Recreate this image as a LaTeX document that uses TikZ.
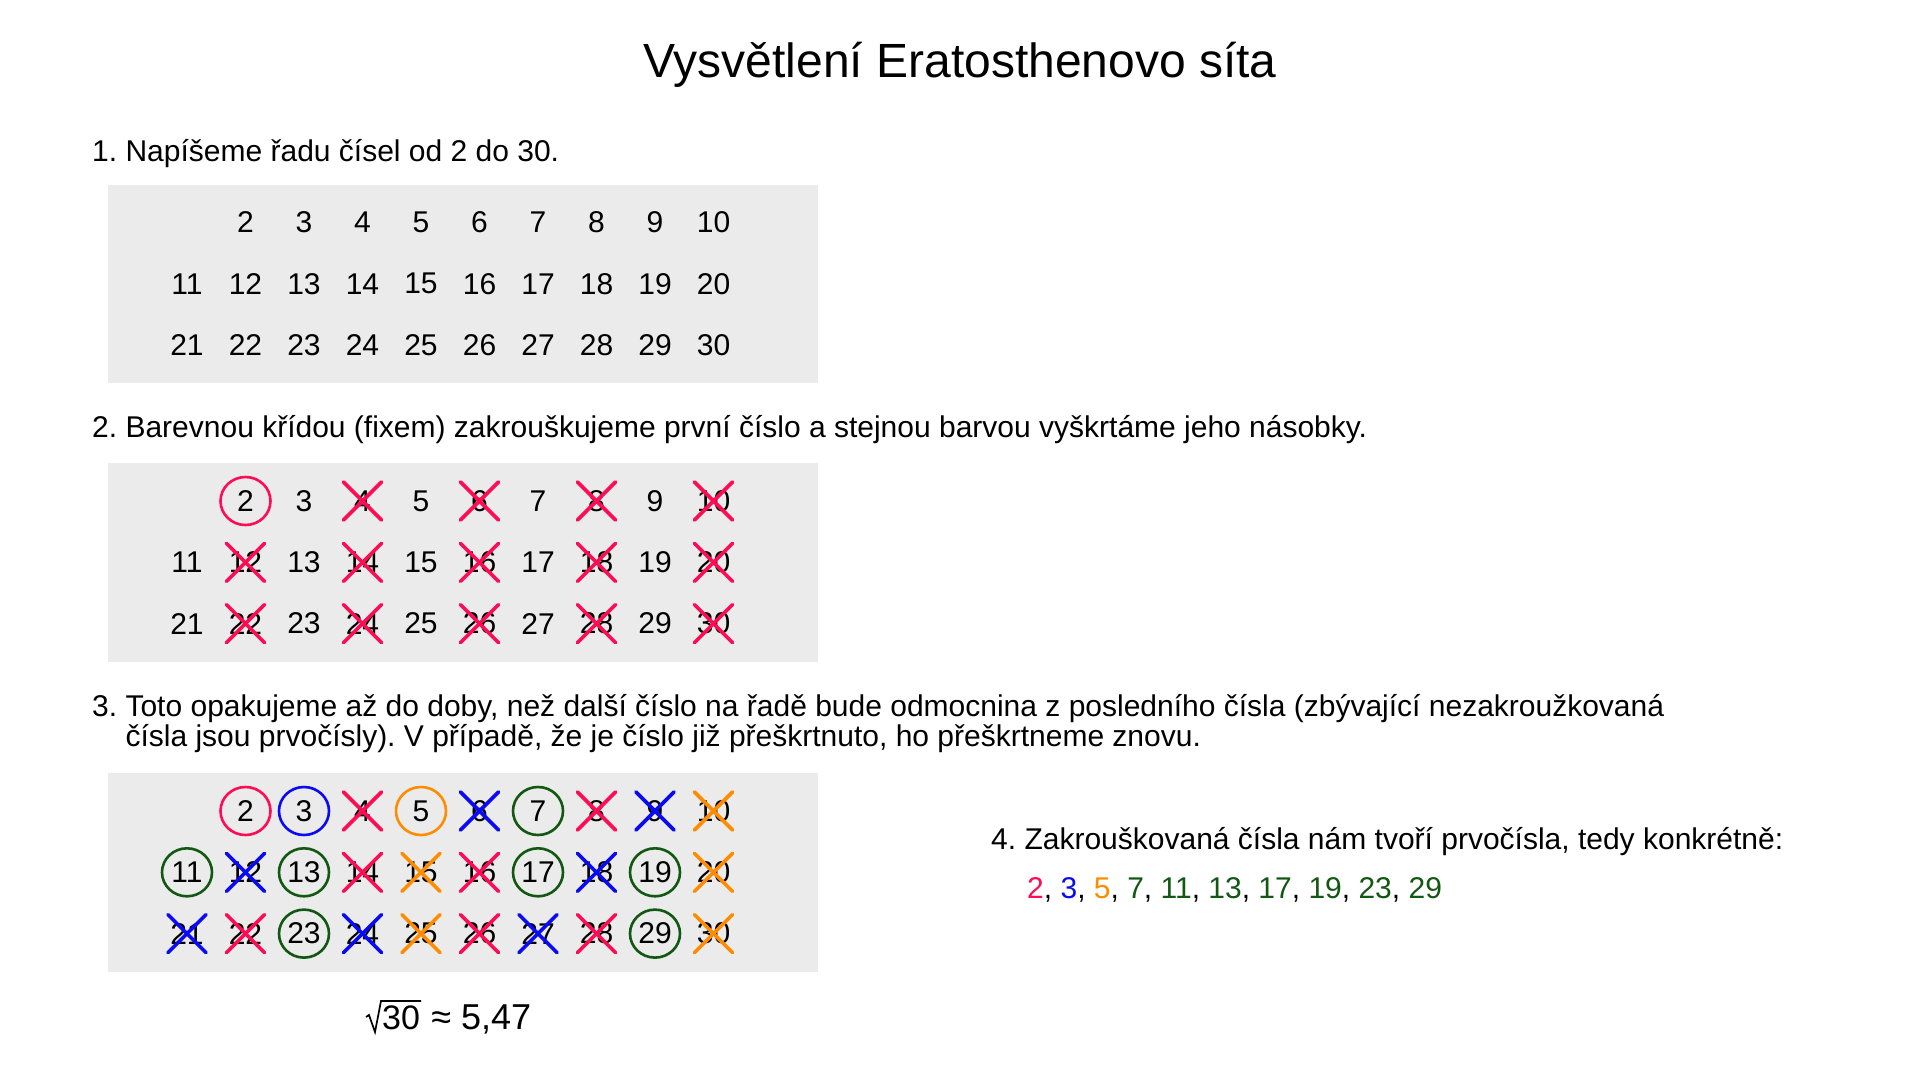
\documentclass[tikz,border=0pt]{standalone}
\usepackage{fontspec}
\setmainfont{Liberation Sans}
\definecolor{cred}{RGB}{255,12,84}
\definecolor{cblue}{RGB}{10,10,245}
\definecolor{corange}{RGB}{255,140,0}
\definecolor{cgreen}{RGB}{18,88,18}
\definecolor{boxgray}{RGB}{235,235,235}
\frenchspacing
\begin{document}
\begin{tikzpicture}[x=1pt,y=-1pt,
  txt/.style={inner sep=0pt, anchor=base west, font=\fontsize{30}{29.5}\selectfont},
  num/.style={inner sep=0pt, anchor=center, font=\fontsize{30}{30}\selectfont},
  panel/.style={fill=boxgray, draw=none},
  ring/.style={line width=2.6pt},
  xline/.style={line width=3.6pt, line cap=round},
  radical/.style={line width=1.7pt, line join=miter}]
\useasboundingbox (0,0) rectangle (1920,1080);
\fill[white] (0,0) rectangle (1920,1080);

% title
\node[inner sep=0pt, anchor=base, font=\fontsize{48}{48}\selectfont] (title) at (960,77) {Vysvětlení Eratosthenovo síta};

% step 1
\node[txt] (s1) at (92,161) {1. Napíšeme řadu čísel od 2 do 30.};
\fill[panel] (108,185) rectangle (818,383);
\foreach \n in {2,...,30}{
  \pgfmathtruncatemacro\cc{mod(\n-1,10)}
  \pgfmathtruncatemacro\rr{floor((\n-1)/10)}
  \node[num] (a\n) at ({187+58.5*\cc},{222.5+61.3*\rr}) {\n};
}

% step 2
\node[txt] (s2) at (92,437) {2. Barevnou křídou (fixem) zakrouškujeme první číslo a stejnou barvou vyškrtáme jeho násobky.};
\fill[panel] (108,463) rectangle (818,662);
\foreach \n in {2,...,30}{
  \pgfmathtruncatemacro\cc{mod(\n-1,10)}
  \pgfmathtruncatemacro\rr{floor((\n-1)/10)}
  \node[num] (b\n) at ({187+58.5*\cc},{501+61.3*\rr}) {\n};
}
\draw[ring,cred] (b2.center) ellipse [x radius=25pt, y radius=24pt];
\foreach \n in {4,6,...,30}{
  \draw[xline,cred] ([xshift=-19pt,yshift=19pt]b\n.center) -- ([xshift=19pt,yshift=-19pt]b\n.center);
  \draw[xline,cred] ([xshift=-19pt,yshift=-19pt]b\n.center) -- ([xshift=19pt,yshift=19pt]b\n.center);
}

% step 3 (base anchor = baseline of the last line)
\node[txt, anchor=base west, align=left] (s3) at (92,746) {3. Toto opakujeme až do doby, než další číslo na řadě bude odmocnina z posledního čísla (zbývající nezakroužkovaná\\\hphantom{3. }čísla jsou prvočísly). V případě, že je číslo již přeškrtnuto, ho přeškrtneme znovu.};
\fill[panel] (108,773) rectangle (818,972);
\foreach \n in {2,...,30}{
  \pgfmathtruncatemacro\cc{mod(\n-1,10)}
  \pgfmathtruncatemacro\rr{floor((\n-1)/10)}
  \node[num] (c\n) at ({187+58.5*\cc},{811+61.3*\rr}) {\n};
}
\foreach \n/\col in {2/cred,3/cblue,5/corange,7/cgreen,11/cgreen,13/cgreen,17/cgreen,19/cgreen,23/cgreen,29/cgreen}{
  \draw[ring,\col] (c\n.center) ellipse [x radius=25pt, y radius=24pt];
}
\foreach \n/\col in {4/cred,6/cblue,8/cred,9/cblue,10/corange,12/cblue,14/cred,15/corange,16/cred,18/cblue,20/corange,21/cblue,22/cred,24/cblue,25/corange,26/cred,27/cblue,28/cred,30/corange}{
  \draw[xline,\col] ([xshift=-19pt,yshift=19pt]c\n.center) -- ([xshift=19pt,yshift=-19pt]c\n.center);
  \draw[xline,\col] ([xshift=-19pt,yshift=-19pt]c\n.center) -- ([xshift=19pt,yshift=19pt]c\n.center);
}

% sqrt(30) ~ 5,47
\node[inner sep=0pt, anchor=base west, font=\fontsize{34}{34}\selectfont] (r30) at (382,1029) {30};
\node[inner sep=0pt, anchor=base west, font=\fontsize{36}{36}\selectfont] (approx) at (r30.base east) {\hspace{11pt}≈ 5,47};
\draw[radical] ([shift={(-16,-12)}]r30.base west) -- ([shift={(-13,-14)}]r30.base west)
  -- ([shift={(-7,3)}]r30.base west) -- ([shift={(-1,-28)}]r30.base west)
  -- ([shift={(1,-28)}]r30.base east);

% step 4
\node[txt] (s4) at (991,849) {4. Zakrouškovaná čísla nám tvoří prvočísla, tedy konkrétně:};
\node[txt] (primes) at (1027,898) {\textcolor{cred}{2}, \textcolor{cblue}{3}, \textcolor{corange}{5}, \textcolor{cgreen}{7}, \textcolor{cgreen}{11}, \textcolor{cgreen}{13}, \textcolor{cgreen}{17}, \textcolor{cgreen}{19}, \textcolor{cgreen}{23}, \textcolor{cgreen}{29}};
\end{tikzpicture}
\end{document}
